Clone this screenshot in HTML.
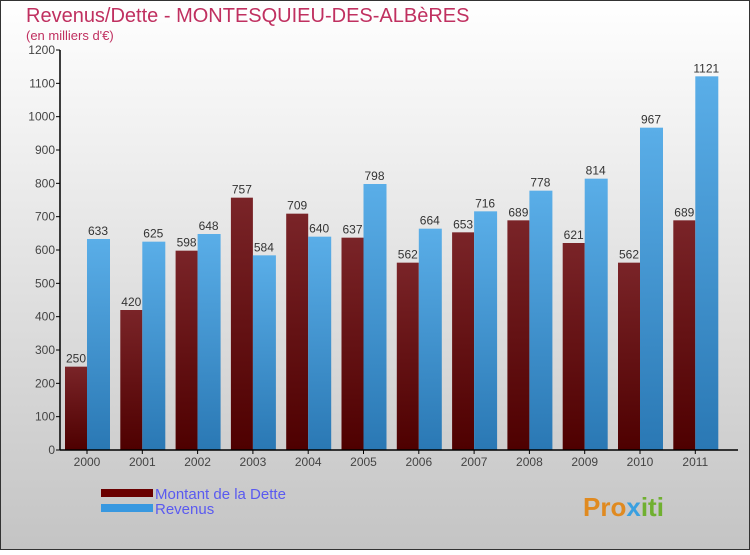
<!DOCTYPE html>
<html><head><meta charset="utf-8"><style>
html,body{margin:0;padding:0}
body{width:750px;height:550px;overflow:hidden;font-family:"Liberation Sans",sans-serif}
</style></head><body>
<svg width="750" height="550" xmlns="http://www.w3.org/2000/svg">
<defs>
<linearGradient id="bg" x1="0" y1="0" x2="0" y2="1"><stop offset="0" stop-color="#ffffff"/><stop offset="1" stop-color="#c4c4c4"/></linearGradient>
<linearGradient id="gd" x1="0" y1="0" x2="0" y2="1"><stop offset="0" stop-color="#7a2428"/><stop offset="1" stop-color="#4e0000"/></linearGradient>
<linearGradient id="gr" x1="0" y1="0" x2="0" y2="1"><stop offset="0" stop-color="#5aaee8"/><stop offset="1" stop-color="#2a78b4"/></linearGradient>
</defs>
<rect x="0.5" y="0.5" width="749" height="549" fill="url(#bg)" stroke="#333"/>
<text x="26" y="22" font-size="20" fill="#c03060">Revenus/Dette - MONTESQUIEU-DES-ALBèRES</text>
<text x="26" y="40" font-size="13" fill="#c03060">(en milliers d'€)</text>
<g id="plot"></g>
<g>
<rect x="101" y="489" width="52" height="8" fill="#6a0000"/>
<text x="155" y="499" font-size="15" fill="#5a5af0">Montant de la Dette</text>
<rect x="101" y="504" width="52" height="8" fill="#3898e0"/>
<text x="155" y="514" font-size="15" fill="#5a5af0">Revenus</text>
</g>
<text x="583" y="516" font-size="26" font-weight="bold" fill="#e08a20">Pro<tspan fill="#3aa0e0">x</tspan><tspan fill="#70b030">iti</tspan></text>
</svg>
<script>
const years=["2000","2001","2002","2003","2004","2005","2006","2007","2008","2009","2010","2011"];
const dette=[250,420,598,757,709,637,562,653,689,621,562,689];
const revenus=[633,625,648,584,640,798,664,716,778,814,967,1121];
const ticks=[0,100,200,300,400,500,600,700,800,900,1000,1100,1200];
const NS="http://www.w3.org/2000/svg";
const g=document.getElementById('plot');
const x0=60,x1=738,y0=450,yMax=1200,h=400;
const gw=55.3;
const xc=i=>x0+27+gw*i;
const ys=v=>y0-v/yMax*h;
function mk(t,a){const e=document.createElementNS(NS,t);for(const k in a)e.setAttribute(k,a[k]);g.appendChild(e);return e;}
ticks.forEach(t=>{
 const l=mk('line',{x1:x0-4,x2:x0,y1:ys(t),y2:ys(t),stroke:'#000'});
 
 
 const tx=mk('text',{x:x0-5,y:ys(t)+4,'font-size':12,'text-anchor':'end',fill:'#444'});
 tx.textContent=t;
 
 
});
years.forEach((yr,i)=>{
 const c=xc(i);
 const b1=mk('rect',{x:c-22,y:ys(dette[i]),width:22,height:y0-ys(dette[i]),fill:'url(#gd)'});
 
 
 const b2=mk('rect',{x:c,y:ys(revenus[i]),width:23,height:y0-ys(revenus[i]),fill:'url(#gr)'});
 
 
 const t1=mk('text',{x:c-11,y:ys(dette[i])-4,'font-size':12,'text-anchor':'middle',fill:'#333'});
 t1.textContent=dette[i];
 
 
 const t2=mk('text',{x:c+11,y:ys(revenus[i])-4,'font-size':12,'text-anchor':'middle',fill:'#333'});
 t2.textContent=revenus[i];
 
 
 const tk=mk('line',{x1:c,x2:c,y1:y0,y2:y0+4,stroke:'#000'});
 
 
 const xl=mk('text',{x:c,y:y0+16,'font-size':12,'text-anchor':'middle',fill:'#444'});
 xl.textContent=yr;
 
 
});
const ya=mk('line',{x1:x0,x2:x0,y1:ys(1200),y2:y0,stroke:'#000','stroke-width':1.5});


const xa=mk('line',{x1:x0,x2:x1,y1:y0,y2:y0,stroke:'#000','stroke-width':1.5});


</script>
</body></html>
